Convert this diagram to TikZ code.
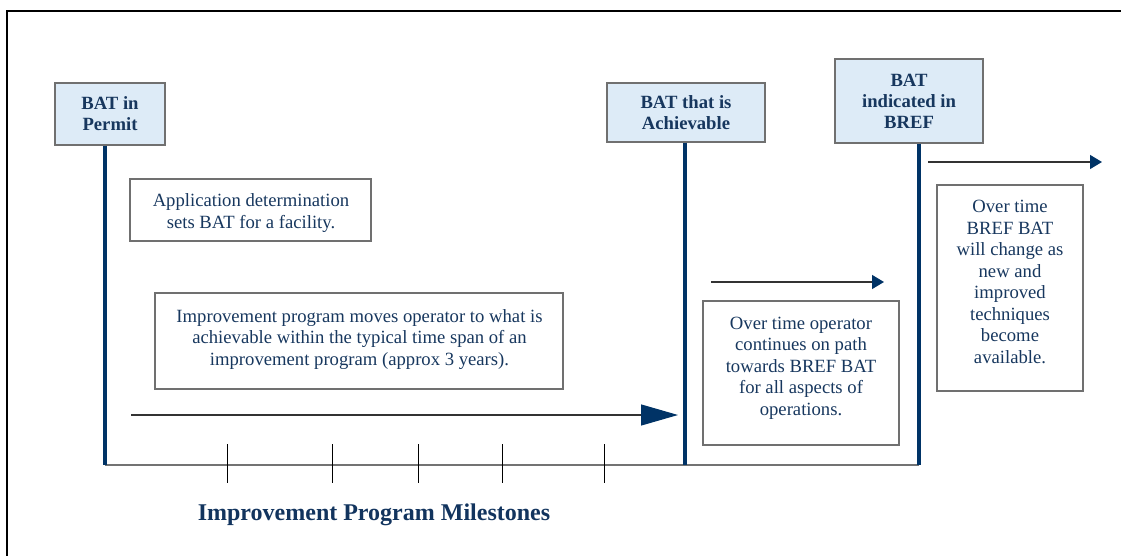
\documentclass[tikz,border=0pt]{standalone}
\usepackage{fontspec}
\setmainfont{Liberation Serif}
\usetikzlibrary{arrows.meta}
\definecolor{navy}{HTML}{003366}
\definecolor{txt}{HTML}{17375E}
\definecolor{lbl}{HTML}{12345E}
\definecolor{boxline}{HTML}{707070}
\definecolor{boxfill}{HTML}{DDEBF7}
\begin{document}
\begin{tikzpicture}[x=1pt,y=-1pt,
  titlebox/.style={draw=boxline, line width=1.2pt, fill=boxfill, inner sep=0pt, align=center, text=txt, font=\fontsize{18.67}{21}\selectfont\bfseries},
  notebox/.style={draw=boxline, line width=1.2pt, inner sep=0pt},
  notetext/.style={align=center, text=txt, inner sep=0pt, font=\fontsize{18.67}{21.5}\selectfont},
  pole/.style={draw=navy, line width=4.5pt},
  tickmark/.style={draw=black, line width=1pt},
  baseline/.style={draw=black!55, line width=1.5pt},
  flow/.style={draw=black!80, line width=1.2pt}
]
\useasboundingbox (0,0) rectangle (1121,556);
\clip (0,0) rectangle (1121,556);
\draw[black, line width=2pt] (7,11) rectangle (1140,580);

% title boxes
\node[titlebox, minimum width=110pt, minimum height=62pt] (permit) at (110,114) {BAT in\\Permit};
\node[titlebox, minimum width=158pt, minimum height=59pt] (achv) at (686,112.5) {BAT that is\\Achievable};
\node[titlebox, minimum width=148pt, minimum height=84pt] (bref) at (909,101) {BAT\\indicated in\\BREF};

% note boxes
\node[notebox, minimum width=241pt, minimum height=62pt] (appbox) at (250.5,210) {};
\node[notetext] (apptext) at (251,213) {Application determination\\sets BAT for a facility.};
\node[notebox, minimum width=408pt, minimum height=96pt] (impbox) at (359,341) {};
\node[notetext] (imptext) at (359.5,339.5) {Improvement program moves operator to what is\\achievable within the typical time span of an\\improvement program (approx 3 years).};
\node[notebox, minimum width=196pt, minimum height=144pt] (opbox) at (801,373) {};
\node[notetext] (optext) at (801,368) {Over time operator\\continues on path\\towards BREF BAT\\for all aspects of\\operations.};
\node[notebox, minimum width=146pt, minimum height=206pt] (chbox) at (1010,288) {};
\node[notetext] (chtext) at (1010,282) {Over time\\BREF BAT\\will change as\\new and\\improved\\techniques\\become\\available.};

% baseline and ticks
\coordinate (p1) at (105,465);
\coordinate (p2) at (685,465);
\coordinate (p3) at (919,465);
\draw[baseline] (p1) -- (p3);
\foreach \x in {227,332,418,502,604} \draw[tickmark] (\x,444) -- (\x,483);

% poles
\draw[pole] (p1 |- permit.south) -- (p1);
\draw[pole] (p2 |- achv.south) -- (p2);
\draw[pole] (p3 |- bref.south) -- (p3);

% arrows
\coordinate (a1s) at (131,415);
\coordinate (a1e) at (678,415);
\coordinate (a2s) at (711,282);
\coordinate (a2e) at (884,282);
\coordinate (a3s) at (928,162);
\coordinate (a3e) at (1102,162);
\draw[flow, -{Triangle[length=37pt,width=21pt,color=navy]}] (a1s) -- (a1e);
\draw[flow, -{Triangle[length=12pt,width=14pt,color=navy]}] (a2s) -- (a2e);
\draw[flow, -{Triangle[length=12pt,width=14pt,color=navy]}] (a3s) -- (a3e);

\node[text=lbl, font=\fontsize{24}{28}\selectfont\bfseries, inner sep=0pt] (milestones) at (374,515) {Improvement Program Milestones};
\end{tikzpicture}
\end{document}
